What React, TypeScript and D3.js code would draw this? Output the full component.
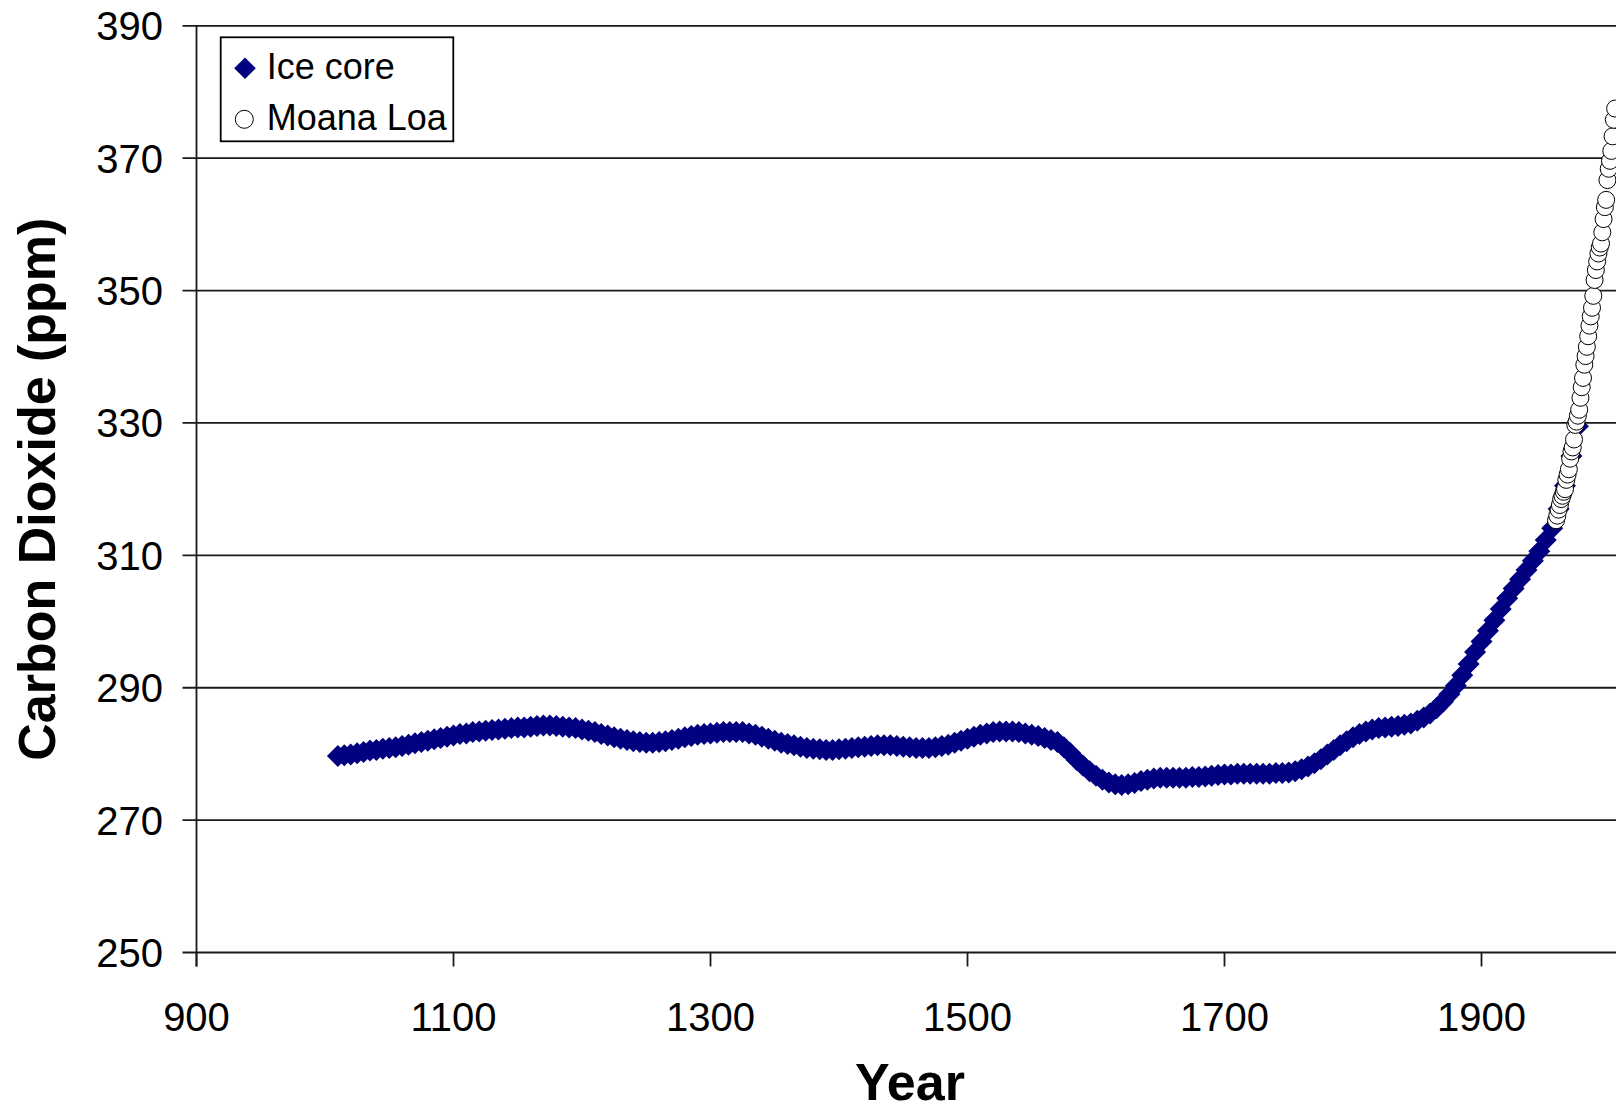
import React from "react";
import * as d3 from "d3";

const iceYears: number[] = [
  1010, 1015, 1020, 1025, 1030, 1035, 1040, 1045, 1050, 1055, 1060, 1065, 1070, 1075, 1080, 1085, 1090, 1095, 1100,
  1105, 1110, 1115, 1120, 1125, 1130, 1135, 1140, 1145, 1150, 1155, 1160, 1165, 1170, 1175, 1180, 1185, 1190, 1195, 1200,
  1205, 1210, 1215, 1220, 1225, 1230, 1235, 1240, 1245, 1250, 1255, 1260, 1265, 1270, 1275, 1280, 1285, 1290, 1295, 1300,
  1305, 1310, 1315, 1320, 1325, 1330, 1335, 1340, 1345, 1350, 1355, 1360, 1365, 1370, 1375, 1380, 1385, 1390, 1395, 1400,
  1405, 1410, 1415, 1420, 1425, 1430, 1435, 1440, 1445, 1450, 1455, 1460, 1465, 1470, 1475, 1480, 1485, 1490, 1495, 1500,
  1505, 1510, 1515, 1520, 1525, 1530, 1535, 1540, 1545, 1550, 1555, 1560, 1565, 1570, 1575, 1580, 1585, 1590, 1595, 1600,
  1605, 1610, 1615, 1620, 1625, 1630, 1635, 1640, 1645, 1650, 1655, 1660, 1665, 1670, 1675, 1680, 1685, 1690, 1695, 1700,
  1705, 1710, 1715, 1720, 1725, 1730, 1735, 1740, 1745, 1750, 1755, 1760, 1765, 1770, 1775, 1780, 1785, 1790, 1795, 1800,
  1805, 1810, 1815, 1820, 1825, 1830, 1835, 1840, 1845, 1850, 1855, 1860, 1865, 1870, 1875, 1880, 1885, 1890, 1895, 1900,
  1905, 1910, 1915, 1920, 1925, 1930, 1935, 1940, 1945, 1950, 1955, 1960, 1965, 1970, 1975,
];

const iceCO2: number[] = [
  279.7, 279.8, 279.9, 280.1, 280.3, 280.5, 280.6, 280.8, 280.9, 281.0, 281.2, 281.4, 281.6, 281.8, 282.0, 282.2, 282.4, 282.6, 282.8,
  283.0, 283.1, 283.3, 283.4, 283.5, 283.6, 283.7, 283.8, 283.9, 284.0, 284.0, 284.1, 284.2, 284.3, 284.3, 284.2, 284.1, 284.0, 283.9, 283.7,
  283.5, 283.3, 283.0, 282.8, 282.5, 282.3, 282.1, 281.9, 281.8, 281.7, 281.7, 281.8, 281.9, 282.1, 282.3, 282.5, 282.7, 282.9, 283.0, 283.1,
  283.2, 283.3, 283.3, 283.3, 283.3, 283.1, 282.9, 282.6, 282.3, 282.0, 281.7, 281.5, 281.3, 281.1, 280.9, 280.8, 280.7, 280.6, 280.6, 280.7,
  280.8, 280.9, 281.0, 281.1, 281.2, 281.3, 281.3, 281.3, 281.2, 281.1, 281.0, 280.9, 280.9, 280.9, 281.0, 281.2, 281.4, 281.7, 282.0, 282.3,
  282.6, 282.9, 283.1, 283.3, 283.4, 283.4, 283.4, 283.3, 283.1, 282.9, 282.7, 282.4, 282.1, 281.8, 281.0, 280.1, 279.1, 278.2, 277.4, 276.7,
  276.1, 275.7, 275.4, 275.3, 275.4, 275.6, 275.9, 276.1, 276.3, 276.4, 276.4, 276.4, 276.4, 276.4, 276.5, 276.5, 276.6, 276.7, 276.8, 276.9,
  276.9, 277.0, 277.0, 277.0, 277.0, 277.0, 277.0, 277.1, 277.1, 277.2, 277.4, 277.7, 278.1, 278.6, 279.2, 279.9, 280.6, 281.3, 281.9, 282.5,
  283.0, 283.4, 283.7, 283.9, 284.0, 284.1, 284.2, 284.4, 284.6, 285.0, 285.5, 286.1, 286.9, 287.9, 289.0, 290.3, 291.9, 293.6, 295.4, 297.0,
  298.6, 300.2, 301.9, 303.5, 305.0, 306.4, 307.8, 309.2, 310.6, 312.3, 314.1, 317.0, 320.5, 325.0, 329.5,
];

const mloYears: number[] = [
  1958, 1959, 1960, 1961, 1962, 1963, 1964, 1965, 1966, 1967, 1968, 1969, 1970, 1971, 1972, 1973, 1974, 1975, 1976, 1977,
  1978, 1979, 1980, 1981, 1982, 1983, 1984, 1985, 1986, 1987, 1988, 1989, 1990, 1991, 1992, 1993, 1994, 1995, 1996, 1997,
  1998, 1999, 2000, 2001, 2002, 2003, 2004,
];

const mloCO2: number[] = [
  315.3, 316.0, 316.9, 317.6, 318.5, 319.0, 319.6, 320.0, 321.4, 322.2, 323.0, 324.6, 325.7, 326.3, 327.5, 329.7, 330.2, 331.1, 332.0, 333.8,
  335.4, 336.8, 338.8, 340.1, 341.5, 343.1, 344.7, 346.1, 347.4, 349.2, 351.6, 353.1, 354.4, 355.6, 356.5, 357.1, 358.8, 360.8, 362.6, 363.7,
  366.7, 368.4, 369.6, 371.1, 373.3, 375.8, 377.5,
];

const xTicks: number[] = [900, 1100, 1300, 1500, 1700, 1900];
const yTicks: number[] = [250, 270, 290, 310, 330, 350, 370, 390];

const seriesNames: string[] = ["Ice core", "Moana Loa"];
const xTitle = "Year";
const yTitle = "Carbon Dioxide (ppm)";

const W = 1616;
const H = 1113;
const FONT = "Arial, 'Liberation Sans', Helvetica, sans-serif";

export default function App() {
  const x = d3.scaleLinear().domain([900, 2000]).range([196.5, 1610]);
  const y = d3.scaleLinear().domain([250, 390]).range([952.5, 25.8]);
  const left = x(900);
  const bottom = y(250);
  const top = y(390);
  const tickLen = 14;
  const gridColor = "#1a1a1a";

  const diamond = (h: number) => `M0,${-h}L${h},0L0,${h}L${-h},0Z`;

  const ice = iceYears.map((yr, i) => ({ yr, v: iceCO2[i] }));
  const mlo = mloYears.map((yr, i) => ({ yr, v: mloCO2[i] }));

  return (
    <svg
      width={W}
      height={H}
      style={{ position: "absolute", left: 0, top: 0, background: "#fff", display: "block" }}
      fontFamily={FONT}
    >
      <rect x={0} y={0} width={W} height={H} fill="#fff" />
      {yTicks.map((t) => (
        <line
          key={"g" + t}
          x1={left - tickLen}
          x2={W}
          y1={y(t)}
          y2={y(t)}
          stroke={gridColor}
          strokeWidth={1.8}
        />
      ))}
      <line x1={left} x2={left} y1={top} y2={bottom + tickLen} stroke={gridColor} strokeWidth={1.8} />
      {xTicks.map((t) => (
        <line key={"xt" + t} x1={x(t)} x2={x(t)} y1={bottom} y2={bottom + tickLen} stroke={gridColor} strokeWidth={1.8} />
      ))}
      {yTicks.map((t) => (
        <text key={"yl" + t} x={163} y={y(t) + 14.5} fontSize={40} textAnchor="end" fill="#000">
          {t}
        </text>
      ))}
      {xTicks.map((t) => (
        <text key={"xl" + t} x={x(t)} y={1031} fontSize={40} textAnchor="middle" fill="#000">
          {t}
        </text>
      ))}
      <text x={910} y={1100} fontSize={52} fontWeight="bold" textAnchor="middle" fill="#000">
        {xTitle}
      </text>
      <text
        transform={`translate(55,${(top + bottom) / 2}) rotate(-90)`}
        fontSize={52}
        fontWeight="bold"
        textAnchor="middle"
        fill="#000"
      >
        {yTitle}
      </text>
      <g fill="#000080">
        {ice.map((d) => (
          <path key={"i" + d.yr} d={diamond(11)} transform={`translate(${x(d.yr)},${y(d.v)})`} />
        ))}
      </g>
      <g fill="#fff" stroke="#000" strokeWidth={1}>
        {mlo.map((d) => (
          <circle key={"m" + d.yr} cx={x(d.yr)} cy={y(d.v)} r={8.5} />
        ))}
      </g>
      <g>
        <rect x={220.7} y={37.3} width={232.6} height={104} fill="#fff" stroke="#000" strokeWidth={1.8} />
        <path d={diamond(10.8)} transform="translate(245,68.3)" fill="#000080" />
        <text x={266.7} y={79} fontSize={36} fill="#000">
          {seriesNames[0]}
        </text>
        <circle cx={244.3} cy={119.3} r={9} fill="#fff" stroke="#000" strokeWidth={1} />
        <text x={266.7} y={130} fontSize={36} fill="#000">
          {seriesNames[1]}
        </text>
      </g>
    </svg>
  );
}
